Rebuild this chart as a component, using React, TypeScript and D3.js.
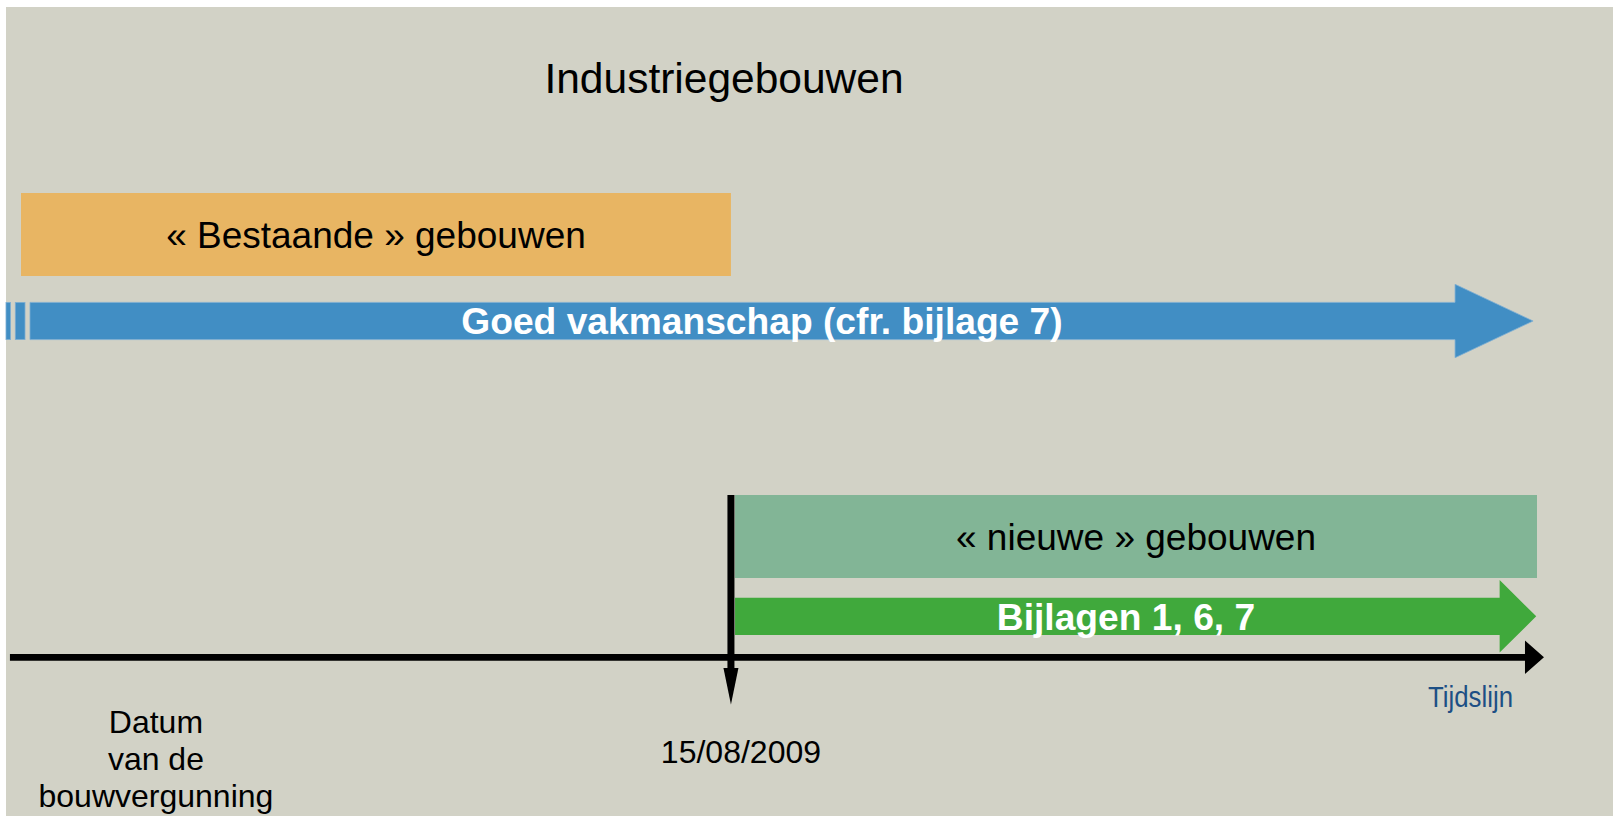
import React from 'react';
import * as d3 from 'd3';

// timeline units: 0 = start of the drawing, 100 = right end
const phaseLabels = ['« Bestaande » gebouwen', '« nieuwe » gebouwen'];
const phaseStart = [0, 47.1];
const phaseEnd = [46.83, 100];

const ruleLabels = ['Goed vakmanschap (cfr. bijlage 7)', 'Bijlagen 1, 6, 7'];
const ruleStart = [-0.99, 47.1];
const ruleEnd = [99.74, 99.95];

const axisStart = -0.73;
const axisEnd = 100.46;
const cutoffValue = 46.83;
const cutoffLabel = '15/08/2009';
const permitValue = 8.9;
const permitLabel = ['Datum', 'van de', 'bouwvergunning'];
const axisLabel = 'Tijdslijn';
const title = 'Industriegebouwen';

const W = 1613;
const H = 816;
const font = '"Liberation Sans", Arial, sans-serif';

const phaseColors = ['#e8b563', '#82b596'];
const ruleColors = ['#418ec4', '#40a93c'];

function arrowPath(x0: number, x1: number, cy: number, shaftHalf: number, headHalf: number, headLen: number) {
  const p = d3.path();
  const xb = x1 - headLen;
  p.moveTo(x0, cy - shaftHalf);
  p.lineTo(xb, cy - shaftHalf);
  p.lineTo(xb, cy - headHalf);
  p.lineTo(x1, cy);
  p.lineTo(xb, cy + headHalf);
  p.lineTo(xb, cy + shaftHalf);
  p.lineTo(x0, cy + shaftHalf);
  p.closePath();
  return p.toString();
}

export default function App() {
  const x = d3.scaleLinear().domain([0, 100]).range([21, 1537]);

  const phaseRows = [{ y: 193, h: 83 }, { y: 495, h: 83 }];
  const ruleRows = [
    { cy: 321, shaft: 18.6, head: 36.7, len: 78, labelX: 762 },
    { cy: 616.3, shaft: 18.6, head: 36.3, len: 36.6, labelX: 1126 },
  ];
  const axisY = 657.3;
  const cx = x(cutoffValue);

  return (
    <svg width={W} height={H} style={{ position: 'absolute', left: 0, top: 0 }}>
      <rect x={0} y={0} width={W} height={H} fill="#ffffff" />
      <rect x={6} y={7} width={W - 6} height={H - 7} fill="#d2d2c6" />

      <text x={724} y={93} textAnchor="middle" fontFamily={font} fontSize={42.5} fill="#000">{title}</text>

      {phaseLabels.map((lbl, i) => (
        <g key={lbl}>
          <rect x={x(phaseStart[i])} y={phaseRows[i].y} width={x(phaseEnd[i]) - x(phaseStart[i])}
            height={phaseRows[i].h} fill={phaseColors[i]} />
          <text x={(x(phaseStart[i]) + x(phaseEnd[i])) / 2} y={phaseRows[i].y + phaseRows[i].h / 2 + 13.3}
            textAnchor="middle" fontFamily={font} fontSize={37} fill="#000">{lbl}</text>
        </g>
      ))}

      {ruleLabels.map((lbl, i) => {
        const r = ruleRows[i];
        const x0 = x(ruleStart[i]);
        const x1 = x(ruleEnd[i]);
        // first rule starts with a broken (striped) tail
        const broken = i === 0;
        return (
          <g key={lbl}>
            {broken && (
              <g fill={ruleColors[i]} stroke="#7eaed3" strokeWidth={0.8}>
                <rect x={x0} y={r.cy - r.shaft} width={4.5} height={r.shaft * 2} />
                <rect x={x0 + 9.3} y={r.cy - r.shaft} width={9.7} height={r.shaft * 2} />
              </g>
            )}
            <path d={arrowPath(broken ? x0 + 24 : x0, x1, r.cy, r.shaft, r.head, r.len)}
              fill={ruleColors[i]} stroke={broken ? '#7eaed3' : 'none'} strokeWidth={0.8} />
            <text x={r.labelX} y={r.cy + 13.3} textAnchor="middle" fontFamily={font} fontWeight="bold"
              fontSize={37.2} fill="#ffffff">{lbl}</text>
          </g>
        );
      })}

      {/* time axis */}
      <path d={arrowPath(x(axisStart), x(axisEnd), axisY, 3.4, 16.7, 19)} fill="#000" />
      <text x={1470.5} y={707} textAnchor="middle" fontFamily={font} fontSize={29}
        textLength={85} lengthAdjust="spacingAndGlyphs" fill="#1d4f85">{axisLabel}</text>

      {/* cutoff marker */}
      <rect x={cx - 3.5} y={495} width={7} height={668 - 495} fill="#000" />
      <path d={`M${cx - 7.5},668L${cx + 7.5},668L${cx},704.5Z`} fill="#000" />
      <text x={cx + 10} y={763} textAnchor="middle" fontFamily={font} fontSize={32} fill="#000">{cutoffLabel}</text>

      <text x={x(permitValue)} y={733} textAnchor="middle" fontFamily={font} fontSize={32} fill="#000">
        {permitLabel.map((l, i) => (
          <tspan key={l} x={x(permitValue)} dy={i === 0 ? 0 : 37}>{l}</tspan>
        ))}
      </text>
    </svg>
  );
}
